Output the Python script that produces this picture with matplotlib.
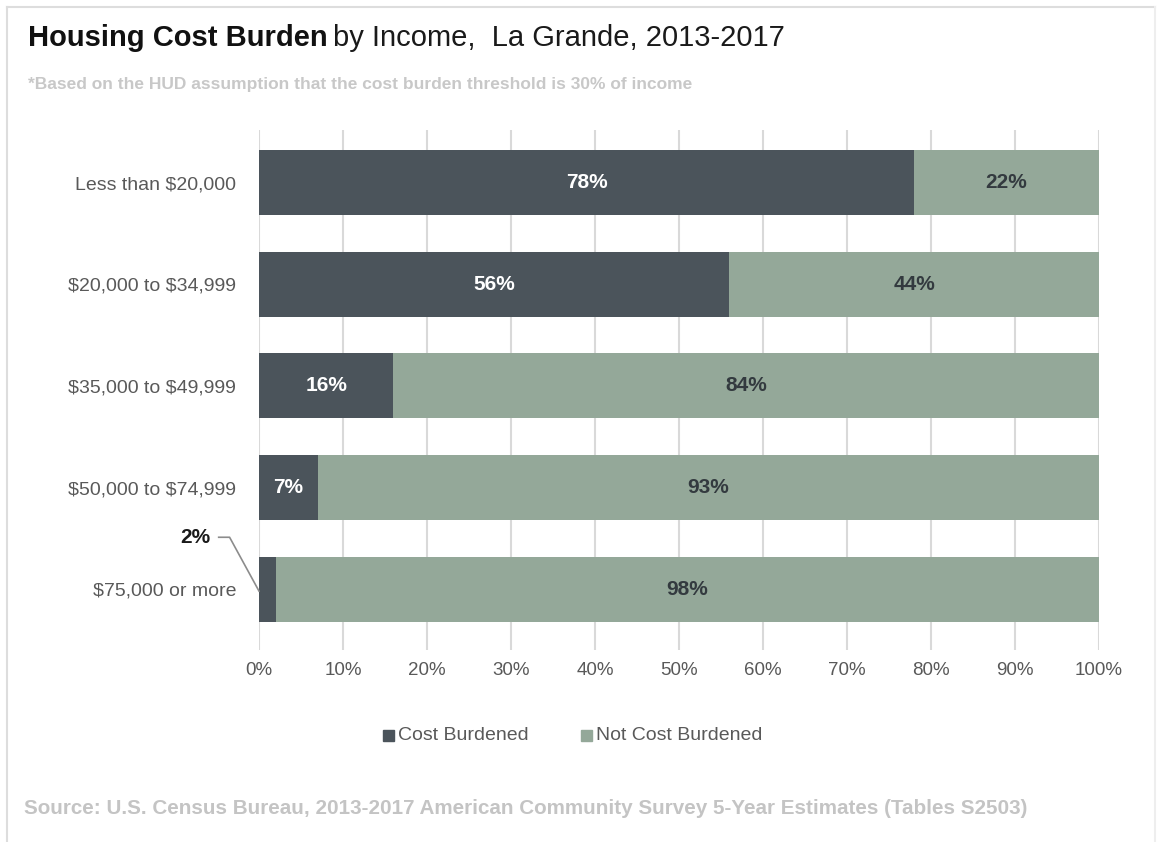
import matplotlib
matplotlib.use("Agg")
import matplotlib.pyplot as plt
from matplotlib.patches import Rectangle
from matplotlib.lines import Line2D

categories = ["Less than $20,000", "$20,000 to $34,999", "$35,000 to $49,999",
              "$50,000 to $74,999", "$75,000 or more"]
cost_burdened = [78, 56, 16, 7, 2]
not_burdened = [22, 44, 84, 93, 98]
tick_values = [0, 10, 20, 30, 40, 50, 60, 70, 80, 90, 100]

dark = "#4b545b"
light = "#94a899"
font = "Liberation Sans"

plt.rcParams["text.usetex"] = False
plt.rcParams["text.parse_math"] = False

fig = plt.figure(figsize=(11.58, 8.42), dpi=100)
W, H = 1158, 842
ax = fig.add_axes([259 / W, 1 - 650 / H, 840 / W, 520 / H])

y = list(range(len(categories)))
ax.barh(y, cost_burdened, height=0.64, color=dark, zorder=2)
ax.barh(y, not_burdened, left=cost_burdened, height=0.64, color=light, zorder=2)
ax.set_xlim(0, 100)
ax.set_ylim(4.6, -0.52)
ax.set_xticks(tick_values)
ax.set_xticklabels([f"{v}%" for v in tick_values], fontsize=13.5, color="#595959",
                   family=font)
ax.set_yticks(y)
ax.set_yticklabels(categories, fontsize=14, color="#595959", family=font)
ax.tick_params(axis="x", length=0, pad=8.5)
ax.tick_params(axis="y", length=0, pad=16.5)
for s in ax.spines.values():
    s.set_visible(False)
ax.grid(axis="x", color="#d9d9d9", linewidth=1.5, zorder=0)

for i, (c, n) in enumerate(zip(cost_burdened, not_burdened)):
    if c >= 5:
        ax.text(c / 2, i, f"{c}%", ha="center", va="center", color="white",
                fontsize=15, fontweight="bold", family=font, zorder=3)
    ax.text(c + n / 2, i, f"{n}%", ha="center", va="center", color="#333a3f",
            fontsize=15, fontweight="bold", family=font, zorder=3)

# callout for the smallest segment
last = len(categories) - 1
ax.text(-5.8, last - 0.51, f"{cost_burdened[last]}%", ha="right", va="center",
        color="#1a1a1a", fontsize=15, fontweight="bold", family=font)
ax.add_line(Line2D([-4.8, -3.5, 0.0], [last - 0.51, last - 0.51, last + 0.02],
                   color="#8c8c8c", linewidth=1.2, clip_on=False))

# title
t1 = fig.text(28 / W, 1 - 38 / H, "Housing Cost Burden", fontsize=21, fontweight="bold",
              family=font, color="#111111", va="center")
fig.canvas.draw()
bb = t1.get_window_extent()
fig.text(bb.x1 / W + 5 / W, 1 - 38 / H, "by Income,  La Grande, 2013-2017", fontsize=21,
         family=font, color="#1a1a1a", va="center")
fig.text(28 / W, 1 - 85 / H,
         "*Based on the HUD assumption that the cost burden threshold is 30% of income",
         fontsize=12.5, fontweight="bold", family=font, color="#c8c8c8", va="center")

# legend
for x0, label, col in [(383, "Cost Burdened", dark), (581, "Not Cost Burdened", light)]:
    fig.patches.append(Rectangle((x0 / W, 1 - 741 / H), 11 / W, 11 / H, color=col,
                                 transform=fig.transFigure, figure=fig))
    fig.text((x0 + 15) / W, 1 - 735 / H, label, fontsize=14, family=font,
             color="#595959", va="center")

fig.text(24 / W, 1 - 808 / H,
         "Source: U.S. Census Bureau, 2013-2017 American Community Survey 5-Year Estimates (Tables S2503)",
         fontsize=14.9, fontweight="bold", family=font, color="#c4c4c4", va="center")

# frame
fig.add_artist(Line2D([7 / W, 1155 / W], [1 - 7 / H, 1 - 7 / H], color="#dddddd",
                      linewidth=1.5, transform=fig.transFigure))
fig.add_artist(Line2D([7 / W, 7 / W], [1 - 7 / H, 0], color="#dddddd",
                      linewidth=1.5, transform=fig.transFigure))
fig.add_artist(Line2D([1155 / W, 1155 / W], [1 - 7 / H, 0], color="#eeeeee",
                      linewidth=1.5, transform=fig.transFigure))

fig.savefig("out.png", dpi=100)
